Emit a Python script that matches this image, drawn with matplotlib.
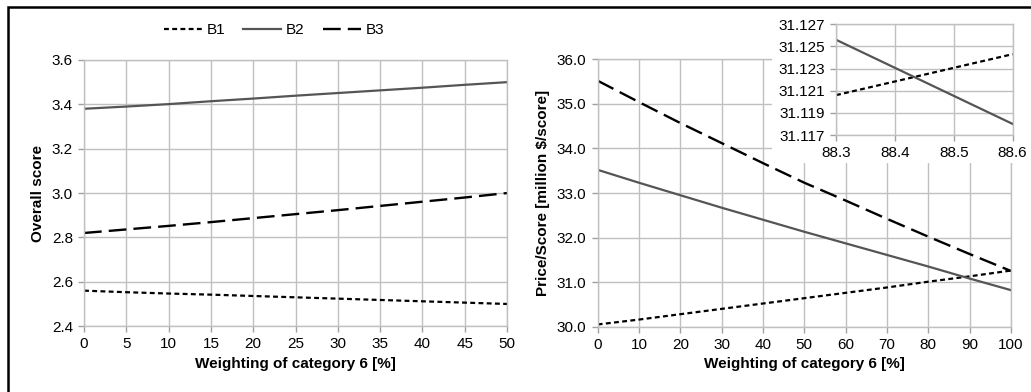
import matplotlib
matplotlib.use('Agg')
import matplotlib.pyplot as plt
from matplotlib.patches import Rectangle

plt.rcParams['font.family'] = ['Liberation Sans', 'DejaVu Sans']
plt.rcParams['font.size'] = 11

# 左图数据：总分
w_left = [0, 5, 10, 15, 20, 25, 30, 35, 40, 45, 50]
b1_score = [2.560, 2.553, 2.547, 2.542, 2.536, 2.530, 2.524, 2.518, 2.512, 2.506, 2.500]
b2_score = [3.380, 3.390, 3.401, 3.414, 3.426, 3.439, 3.451, 3.463, 3.475, 3.488, 3.500]
b3_score = [2.820, 2.836, 2.852, 2.869, 2.887, 2.905, 2.923, 2.942, 2.961, 2.980, 3.000]

# 右图数据：价格/分数
w_right = [0, 10, 20, 30, 40, 50, 60, 70, 80, 90, 100]
b1_price = [30.05, 30.16, 30.28, 30.40, 30.52, 30.64, 30.76, 30.88, 31.01, 31.13, 31.26]
b2_price = [33.52, 33.23, 32.95, 32.67, 32.40, 32.13, 31.87, 31.61, 31.35, 31.08, 30.82]
b3_price = [35.52, 35.04, 34.57, 34.12, 33.67, 33.23, 32.83, 32.42, 32.02, 31.63, 31.25]

# 放大图数据
w_zoom = [88.3, 88.6]
b1_zoom = [31.1206, 31.1243]
b2_zoom = [31.1256, 31.1180]

styles = {
    'B1': dict(color='black', lw=1.6, dashes=(2.2, 1.5)),
    'B2': dict(color='#555555', lw=1.6, linestyle='-'),
    'B3': dict(color='black', lw=1.7, dashes=(7.5, 3.0)),
}
grid_c = '#c0c0c0'


def style_axes(ax):
    ax.grid(True, color=grid_c, lw=1)
    ax.set_axisbelow(True)
    for s in ax.spines.values():
        s.set_color(grid_c)
        s.set_linewidth(1)
    ax.tick_params(direction='out', length=4, color='#a0a0a0', width=1, pad=4, labelsize=11)


fig = plt.figure(figsize=(10.31, 3.92), dpi=100)

# 外框
fig.patches.append(Rectangle((8 / 1031, -0.1), 1.2, 1.1 - 7 / 392, transform=fig.transFigure,
                             fill=False, ec='black', lw=1.8, zorder=0))

ax1 = fig.add_axes([0.0815, 0.168, 0.4103, 0.679])
ax1.plot(w_left, b1_score, label='B1', **styles['B1'])
ax1.plot(w_left, b2_score, label='B2', **styles['B2'])
ax1.plot(w_left, b3_score, label='B3', **styles['B3'])
ax1.set_xlim(0, 50)
ax1.set_ylim(2.4, 3.6)
ax1.set_xticks(range(0, 51, 5))
ax1.set_yticks([2.4, 2.6, 2.8, 3.0, 3.2, 3.4, 3.6])
ax1.yaxis.set_major_formatter(plt.FormatStrFormatter('%.1f'))
style_axes(ax1)
ax1.set_xlabel('Weighting of category 6 [%]', fontweight='bold', labelpad=4)
ax1.set_ylabel('Overall score', fontweight='bold', labelpad=5)

fig.legend(*ax1.get_legend_handles_labels(), loc='center', ncol=3, frameon=False,
           bbox_to_anchor=(274 / 1031, 1 - 30 / 392), handlelength=2.5,
           handletextpad=0.3, columnspacing=1.2)

ax2 = fig.add_axes([0.5797, 0.1666, 0.4009, 0.6821])
ax2.plot(w_right, b1_price, **styles['B1'])
ax2.plot(w_right, b2_price, **styles['B2'])
ax2.plot(w_right, b3_price, **styles['B3'])
ax2.set_xlim(0, 100)
ax2.set_ylim(30, 36)
ax2.set_xticks(range(0, 101, 10))
ax2.set_yticks(range(30, 37))
ax2.yaxis.set_major_formatter(plt.FormatStrFormatter('%.1f'))
style_axes(ax2)
ax2.set_xlabel('Weighting of category 6 [%]', fontweight='bold', labelpad=4)
ax2.set_ylabel('Price/Score [million $/score]', fontweight='bold', labelpad=5)

# 放大图的白色底板
fig.patches.append(Rectangle((772 / 1031, 1 - 163 / 392), 0.3, 150 / 392, transform=fig.transFigure,
                             fc='white', ec='none', zorder=1))

ax3 = fig.add_axes([0.8109, 0.6556, 0.1713, 0.2825], zorder=2)
ax3.plot(w_zoom, b1_zoom, **styles['B1'])
ax3.plot(w_zoom, b2_zoom, **styles['B2'])
ax3.set_xlim(88.3, 88.6)
ax3.set_ylim(31.117, 31.127)
ax3.set_xticks([88.3, 88.4, 88.5, 88.6])
ax3.set_yticks([31.117, 31.119, 31.121, 31.123, 31.125, 31.127])
ax3.yaxis.set_major_formatter(plt.FormatStrFormatter('%.3f'))
style_axes(ax3)

fig.savefig('out.png', dpi=100)
